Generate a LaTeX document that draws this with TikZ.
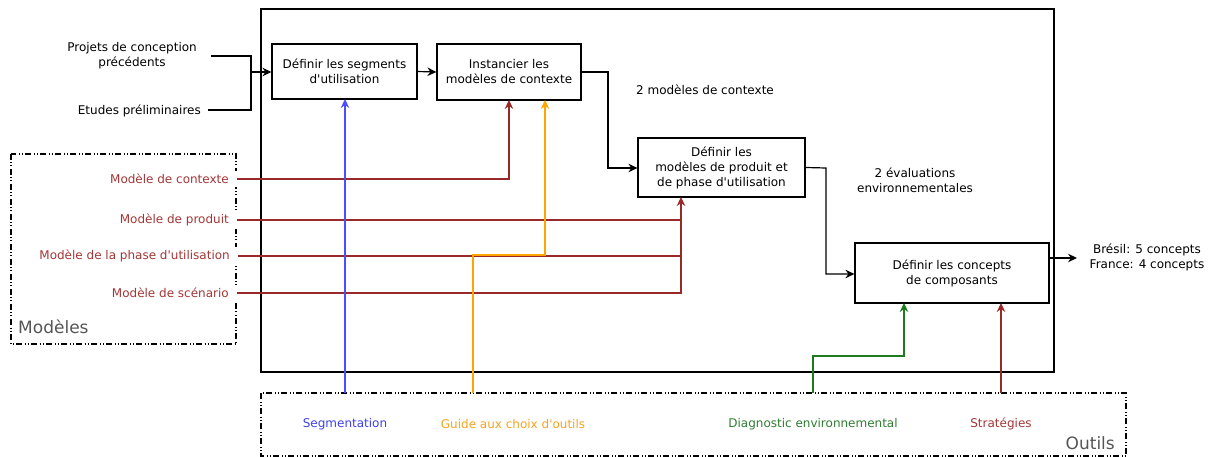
\documentclass[tikz,border=0pt]{standalone}
\usepackage{fontspec}
\setmainfont{DejaVu Sans}[Ligatures=TeXOff]
\usetikzlibrary{arrows.meta}
\definecolor{dred}{HTML}{992828}
\definecolor{dredtxt}{HTML}{A33636}
\definecolor{bl}{HTML}{4D4DFF}
\definecolor{bltxt}{HTML}{3F3FEE}
\definecolor{orng}{HTML}{FFA500}
\definecolor{orngtxt}{HTML}{F5A21F}
\definecolor{grn}{HTML}{1E7A1E}
\definecolor{grntxt}{HTML}{2E7D32}
\definecolor{grytxt}{HTML}{555555}
\tikzset{
  stepbox/.style={draw=black, line width=1.2pt, fill=white, align=center, inner sep=0pt},
  conn/.style={line width=1.2pt, -{Stealth[length=9pt,width=8.5pt,inset=3pt]}},
  plain/.style={line width=1.2pt},
  groupbox/.style={draw=black, line width=1.1pt, dash pattern=on 6pt off 2.5pt on 1pt off 2pt on 1pt off 2.5pt},
  lbl/.style={align=center, inner sep=0pt},
  modlbl/.style={text=dredtxt, fill=white, anchor=east, inner xsep=8pt, inner ysep=3pt},
  toollbl/.style={inner sep=0pt},
  grouptitle/.style={text=grytxt, font=\fontsize{17}{20}\selectfont, inner sep=0pt}
}
\begin{document}
\begin{tikzpicture}[x=1pt,y=-1pt, font=\fontsize{12}{15}\selectfont]
\useasboundingbox (0,0) rectangle (1211,457);

% main frame
\draw[line width=1.2pt] (261,9) rectangle (1054,372);

% group boxes
\draw[groupbox] (11,154) rectangle (236,344);
\draw[groupbox] (261,393) rectangle (1126,456);
\node[grouptitle, anchor=west] (tModeles) at (18,327) {Modèles};
\node[grouptitle, anchor=east] (tOutils) at (1115,443) {Outils};

% process boxes
\node[stepbox, minimum width=145pt, minimum height=55pt] (b1) at (344.5,71.5) {Définir les segments\\d'utilisation};
\node[stepbox, minimum width=144pt, minimum height=56pt] (b2) at (509,72) {Instancier les\\modèles de contexte};
\node[stepbox, minimum width=167pt, minimum height=59pt] (b3) at (721.5,167.5) {Définir les\\modèles de produit et\\de phase d'utilisation};
\node[stepbox, minimum width=194pt, minimum height=60pt] (b4) at (952,273) {Définir les concepts\\de composants};

% inputs
\node[lbl, anchor=east] (in1) at (197,56) {Projets de conception\\précédents};
\node[lbl, anchor=east] (in2) at (201,111) {Etudes préliminaires};
\coordinate (j1) at (251,72);
\draw[plain] (211,56) -- (251,56) -- (251,110) -- (208,110);
\draw[conn] (j1) -- (b1.west |- j1);

% flow
\draw[conn] (b1.east) -- (b2.west);
\draw[conn] (b2.east) -- (608,72) -- (608,168) -- (b3.west |- 0,168);
\draw[conn] (b3.east) -- (826,168) -- (826,274) -- (b4.west |- 0,274);
\coordinate (out) at (1077,258);
\draw[conn] (b4.east |- out) -- (out);

% annotations
\node[lbl] (a1) at (705,90) {2 modèles de contexte};
\node[lbl] (a2) at (915,180) {2 évaluations\\environnementales};
\node[lbl] (res) at (1147,257) {Brésil: 5 concepts\\France: 4 concepts};

% model labels
\node[modlbl] (m1) at (237,179) {Modèle de contexte};
\node[modlbl] (m2) at (237,220) {Modèle de produit };
\node[modlbl] (m3) at (238,256) {Modèle de la phase d'utilisation};
\node[modlbl] (m4) at (237,293) {Modèle de scénario};

% tool labels
\node[toollbl, text=bltxt] (t1) at (345,424) {Segmentation};
\node[toollbl, text=orngtxt] (t2) at (513,424) {Guide aux choix d'outils};
\node[toollbl, text=grntxt] (t3) at (813,424) {Diagnostic environnemental};
\node[toollbl, text=dredtxt] (t4) at (1001,424) {Stratégies};

% tool connectors
\coordinate (s1) at (345,393);
\coordinate (s2) at (473,393);
\coordinate (s3) at (813,393);
\coordinate (s4) at (1001,393);

% model connectors
\draw[conn, draw=dred, color=dred] (m1.east) -- (509,179) -- (509,100);
\draw[plain, draw=dred] (m2.east) -- (681,220);
\draw[plain, draw=dred] (m3.east) -- (681,256);
\draw[conn, draw=dred, color=dred] (m4.east) -- (681,293) -- (681,197);

\draw[conn, draw=bl, color=bl] (s1) -- (345,99);
\draw[conn, draw=orng, color=orng] (s2) -- (473,255) -- (545,255) -- (545,100);
\draw[conn, draw=grn, color=grn] (s3) -- (813,356) -- (904,356) -- (904,303);
\draw[conn, draw=dred, color=dred] (s4) -- (1001,303);
\end{tikzpicture}
\end{document}
